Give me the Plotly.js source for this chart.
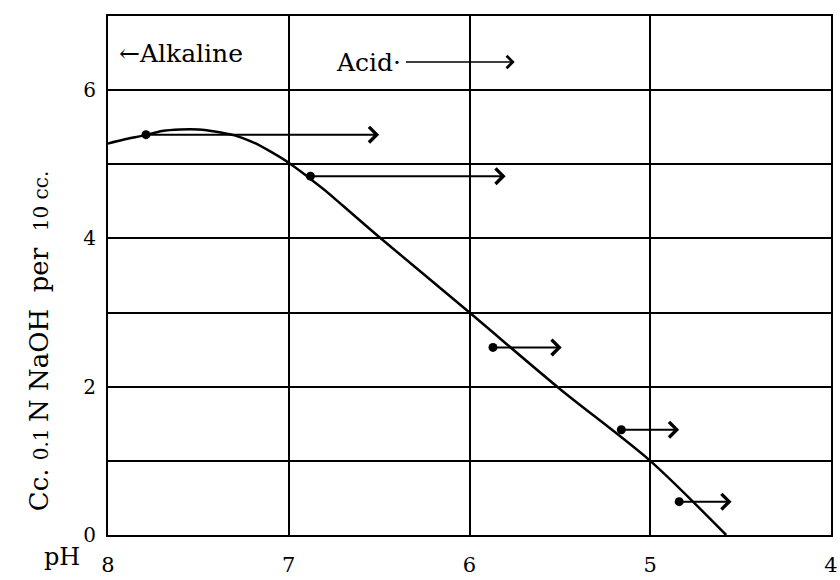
<!DOCTYPE html>
<html><head><meta charset="utf-8">
<script src="https://cdn.plot.ly/plotly-3.0.1.min.js"></script>
<style>body{margin:0;background:#fff}#c{width:840px;height:580px}</style>
</head><body><div id="c"></div>
<script>
// Curve (pH vs cc 0.1 N NaOH per 10 cc)
const curvePH = [8.0, 7.9, 7.8, 7.7, 7.6, 7.5, 7.4, 7.3, 7.2, 7.1, 7.0, 6.9, 6.8, 6.7, 6.5, 6.0, 5.5, 5.0, 4.58];
const curveCC = [5.28, 5.34, 5.39, 5.45, 5.47, 5.47, 5.44, 5.39, 5.30, 5.17, 5.02, 4.84, 4.65, 4.44, 4.02, 3.0, 1.97, 1.0, 0.0];
// Observed points and the pH they shift towards (arrows)
const pointPH = [7.79, 6.88, 5.87, 5.16, 4.84];
const pointCC = [5.40, 4.84, 2.53, 1.42, 0.45];
const arrowEndPH = [6.50, 5.80, 5.49, 4.84, 4.55];
const xTicks = [8, 7, 6, 5, 4];
const yTicks = [0, 1, 2, 3, 4, 5, 6, 7];
const yTickText = ["0", "", "2", "", "4", "", "6", ""];

const font = "DejaVu Serif";
const nb = "\u00A0";
const sm = (t) => "<span style='font-size:20px'>" + t + "</span>";

const traces = [
  {x: curvePH, y: curveCC, mode: "lines", line: {color: "#000", width: 2.5, shape: "spline", smoothing: 0.8}, hoverinfo: "skip"},
  {x: pointPH, y: pointCC, mode: "markers", marker: {color: "#000", size: 9}, hoverinfo: "skip"}
];

const annotations = pointPH.map((px, i) => ({
  x: arrowEndPH[i], y: pointCC[i], xref: "x", yref: "y",
  ax: px, ay: pointCC[i], axref: "x", ayref: "y",
  showarrow: true, arrowhead: 4, arrowsize: 1.5, arrowwidth: 2, arrowcolor: "#000", text: ""
}));
annotations.push(
  {xref: "paper", yref: "paper", x: 0.013, y: 0.927, xanchor: "left", yanchor: "middle", text: "←Alkaline", showarrow: false, font: {family: font, size: 25, color: "#000"}},
  {xref: "paper", yref: "paper", x: 0.313, y: 0.911, xanchor: "left", yanchor: "middle", text: "Acid·", showarrow: false, font: {family: font, size: 25, color: "#000"}},
  {x: 5.75, y: 6.38, xref: "x", yref: "y", ax: 6.36, ay: 6.38, axref: "x", ayref: "y", showarrow: true, arrowhead: 4, arrowsize: 1.5, arrowwidth: 1.6, arrowcolor: "#000", text: ""},
  {xref: "paper", yref: "paper", x: -0.095, y: 0.374, xanchor: "center", yanchor: "middle", textangle: -90, showarrow: false,
   text: "Cc." + nb + sm("0.1" + nb) + "N" + nb + "NaOH" + nb + nb + "per" + nb + nb + sm("10" + nb + "cc."),
   font: {family: font, size: 26, color: "#000"}},
  {xref: "paper", yref: "paper", x: -0.064, y: -0.042, xanchor: "center", yanchor: "middle", text: "pH", showarrow: false, font: {family: font, size: 24, color: "#000"}}
);

const layout = {
  width: 840, height: 580,
  margin: {l: 108, r: 9, t: 16, b: 45},
  paper_bgcolor: "#fff", plot_bgcolor: "#fff",
  showlegend: false,
  xaxis: {range: [8, 4], tickvals: xTicks, ticktext: xTicks.map(String), showgrid: true, gridcolor: "#000", gridwidth: 2,
    zeroline: false, showline: true, linecolor: "#000", linewidth: 2, mirror: true, ticks: "", ticklen: 0,
    ticklabelstandoff: 10, ticklabeloverflow: "allow",
    tickfont: {family: font, size: 21, color: "#000"}},
  yaxis: {range: [0, 7], tickvals: yTicks, ticktext: yTickText, showgrid: true, gridcolor: "#000", gridwidth: 2,
    zeroline: false, showline: true, linecolor: "#000", linewidth: 2, mirror: true, ticks: "", ticklen: 0,
    ticklabelstandoff: 6,
    tickfont: {family: font, size: 20, color: "#000"}},
  annotations: annotations
};
Plotly.newPlot("c", traces, layout, {staticPlot: true});
</script></body></html>
